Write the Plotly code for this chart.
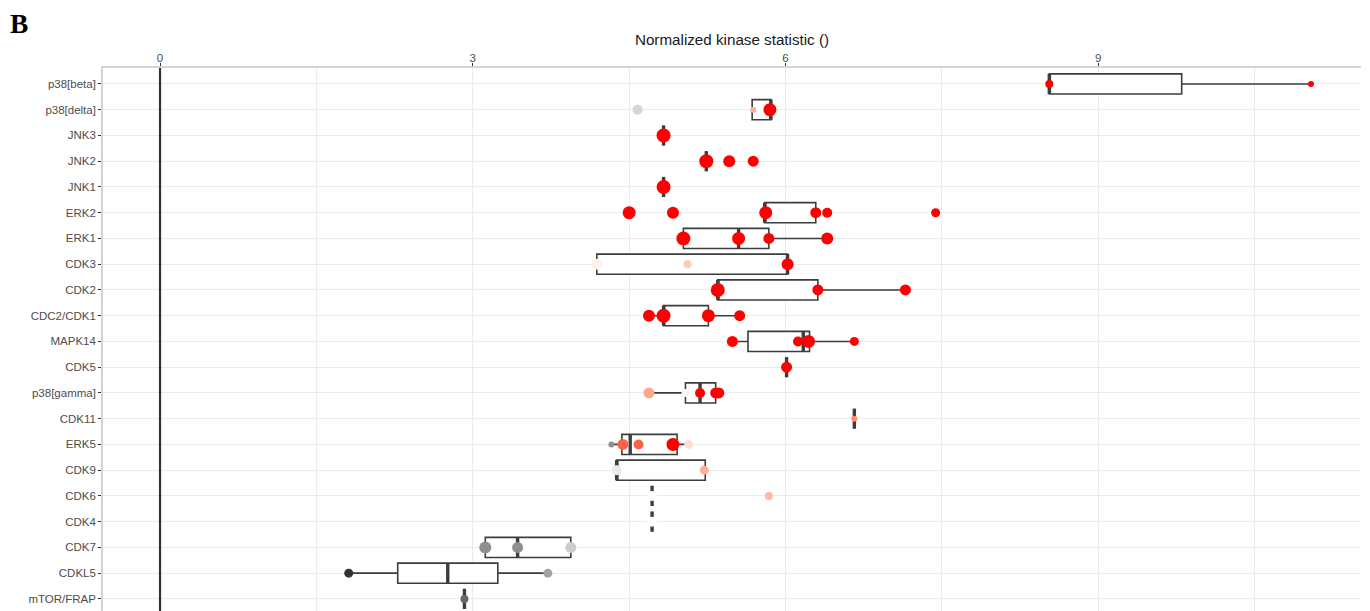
import plotly.graph_objects as go

# ---------------- data ----------------
kinases = ["p38[beta]", "p38[delta]", "JNK3", "JNK2", "JNK1", "ERK2", "ERK1",
           "CDK3", "CDK2", "CDC2/CDK1", "MAPK14", "CDK5", "p38[gamma]", "CDK11",
           "ERK5", "CDK9", "CDK6", "CDK4", "CDK7", "CDKL5", "mTOR/FRAP"]

box_q1     = [8.53, 5.68, 4.83, 5.24, 4.83, 5.80, 5.02, 4.19, 5.35, 4.83, 5.64, 6.01, 5.04, 6.66, 4.43, 4.38, 4.72, 4.72, 3.12, 2.28, 2.92]
box_median = [8.53, 5.86, 4.83, 5.24, 4.83, 5.80, 5.55, 6.02, 5.35, 4.83, 6.17, 6.01, 5.18, 6.66, 4.51, 4.38, 4.72, 4.72, 3.43, 2.76, 2.92]
box_q3     = [9.80, 5.86, 4.83, 5.24, 4.83, 6.29, 5.84, 6.02, 6.31, 5.26, 6.23, 6.01, 5.33, 6.66, 4.96, 5.23, 4.72, 4.72, 3.94, 3.24, 2.92]
box_low    = [8.53, 5.68, 4.83, 5.24, 4.83, 5.80, 5.02, 4.19, 5.35, 4.69, 5.49, 6.01, 4.69, 6.66, 4.33, 4.38, 4.72, 4.72, 3.12, 1.81, 2.92]
box_high   = [11.04, 5.86, 4.83, 5.24, 4.83, 6.29, 6.40, 6.02, 7.15, 5.56, 6.66, 6.01, 5.33, 6.66, 5.06, 5.23, 4.72, 4.72, 3.94, 3.72, 2.92]

point_kinase = ["p38[beta]", "p38[beta]",
                "p38[delta]", "p38[delta]", "p38[delta]",
                "JNK3",
                "JNK2", "JNK2", "JNK2",
                "JNK1",
                "ERK2", "ERK2", "ERK2", "ERK2", "ERK2", "ERK2",
                "ERK1", "ERK1", "ERK1", "ERK1",
                "CDK3", "CDK3", "CDK3",
                "CDK2", "CDK2", "CDK2",
                "CDC2/CDK1", "CDC2/CDK1", "CDC2/CDK1", "CDC2/CDK1",
                "MAPK14", "MAPK14", "MAPK14", "MAPK14",
                "CDK5",
                "p38[gamma]", "p38[gamma]", "p38[gamma]", "p38[gamma]", "p38[gamma]",
                "CDK11",
                "ERK5", "ERK5", "ERK5", "ERK5", "ERK5",
                "CDK9", "CDK9",
                "CDK6", "CDK6",
                "CDK4",
                "CDK7", "CDK7", "CDK7",
                "CDKL5", "CDKL5",
                "mTOR/FRAP"]
point_value = [8.53, 11.04,
               4.58, 5.69, 5.85,
               4.83,
               5.24, 5.46, 5.69,
               4.83,
               4.50, 4.92, 5.81, 6.29, 6.40, 7.44,
               5.02, 5.55, 5.84, 6.40,
               4.19, 5.06, 6.02,
               5.35, 6.31, 7.15,
               4.69, 4.83, 5.26, 5.56,
               5.49, 6.12, 6.22, 6.66,
               6.01,
               4.69, 5.04, 5.18, 5.33, 5.36,
               6.66,
               4.33, 4.44, 4.59, 4.92, 5.07,
               4.38, 5.22,
               4.72, 5.84,
               4.72,
               3.12, 3.43, 3.94,
               1.81, 3.72,
               2.92]
# colour score: -1 = dark grey, 0 = white, 1 = red
point_score = [1.0, 1.0,
               -0.2, 0.45, 1.0,
               1.0,
               1.0, 1.0, 1.0,
               1.0,
               1.0, 1.0, 1.0, 1.0, 1.0, 1.0,
               1.0, 1.0, 1.0, 1.0,
               0.08, 0.3, 1.0,
               1.0, 1.0, 1.0,
               1.0, 1.0, 1.0, 1.0,
               1.0, 1.0, 1.0, 1.0,
               1.0,
               0.5, 0.05, 1.0, 1.0, 1.0,
               0.62,
               -0.55, 0.78, 0.78, 1.0, 0.2,
               -0.1, 0.45,
               0.0, 0.4,
               0.0,
               -0.55, -0.55, -0.25,
               -1.0, -0.45,
               -0.75]
point_size = [8, 6,
              10, 6, 13,
              14,
              14, 12, 11,
              14,
              13, 12, 13, 11, 10, 9,
              14, 13, 11, 12,
              11, 8, 12,
              14, 11, 11,
              12, 14, 13, 11,
              11, 10, 13, 9,
              11,
              11, 8, 10, 11, 11,
              6,
              6, 11, 10, 13, 9,
              10, 9,
              10, 8,
              10,
              12, 11, 11,
              9, 9,
              8]

axis_ticks = [0, 3, 6, 9]
minor_ticks = [1.5, 4.5, 7.5, 10.5]
reference_x = 0

# ---------------- figure ----------------
pos = list(range(len(kinases)))
box_w = 0.78
line_col = "#3d3d3d"

fig = go.Figure()

fig.add_trace(go.Box(
    y=pos, q1=box_q1, median=box_median, q3=box_q3,
    lowerfence=box_low, upperfence=box_high,
    orientation="h", width=box_w, whiskerwidth=0,
    fillcolor="white", line=dict(color=line_col, width=1.6),
    boxpoints=False, showlegend=False, hoverinfo="skip"))

# thicker median lines (ggplot style)
mx, my = [], []
for i, m in enumerate(box_median):
    mx += [m, m, None]
    my += [i - box_w / 2, i + box_w / 2, None]
fig.add_trace(go.Scatter(x=mx, y=my, mode="lines",
                         line=dict(color=line_col, width=3.4),
                         showlegend=False, hoverinfo="skip"))

colorscale = [
    [0.0, "#333333"],
    [0.5, "#ffffff"],
    [0.625, "#ffd4c4"],
    [0.75, "#ffa88c"],
    [0.875, "#ff7050"],
    [1.0, "#ff0000"],
]
fig.add_trace(go.Scatter(
    x=point_value, y=[kinases.index(k) for k in point_kinase], mode="markers",
    marker=dict(size=point_size, color=point_score, colorscale=colorscale,
                cmin=-1, cmax=1, line=dict(width=0), opacity=1),
    showlegend=False))

fig.add_shape(type="line", x0=reference_x, x1=reference_x, xref="x",
              y0=0, y1=1, yref="paper", line=dict(color="#333333", width=2.2),
              layer="above")

font_family = "Liberation Sans, Arial, sans-serif"
fig.update_layout(
    width=1362, height=603,
    margin=dict(l=95, r=9, t=60, b=0),
    paper_bgcolor="white", plot_bgcolor="white",
    font=dict(family=font_family, size=11.5, color="#4d4d4d"),
    title=dict(text="<b>B</b>", x=2 / 1362, xref="container", xanchor="left",
               y=1 - 15 / 603, yref="container", yanchor="middle",
               pad=dict(l=0, r=0, t=0, b=0),
               font=dict(family="Liberation Serif, Times New Roman, serif",
                         size=27.5, color="black")),
    xaxis=dict(side="top", range=[-0.547, 11.52], tickvals=axis_ticks,
               ticktext=[str(t) for t in axis_ticks],
               ticks="outside", ticklen=3, tickwidth=1, tickcolor="#333333",
               ticklabelstandoff=-3,
               showgrid=True, gridcolor="#ebebeb", gridwidth=1.1,
               minor=dict(tickvals=minor_ticks, showgrid=True,
                          gridcolor="#ebebeb", gridwidth=1.1, ticks=""),
               zeroline=False, showline=True, linecolor="#d4d4d4", linewidth=1.6,
               tickfont=dict(size=11.5, color="#4d4d4d"),
               title=dict(text="Normalized kinase statistic ()",
                          font=dict(size=15.2, color="#1a1a1a"), standoff=2)),
    yaxis=dict(range=[20.47, -0.62], tickvals=pos, ticktext=kinases,
               ticks="outside", ticklen=3, tickwidth=1, tickcolor="#333333",
               showgrid=True, gridcolor="#ebebeb", gridwidth=1.3,
               zeroline=False, showline=True, linecolor="#d4d4d4", linewidth=1.6,
               tickfont=dict(size=11.5, color="#4d4d4d")),
)

fig.write_html("out.html")
